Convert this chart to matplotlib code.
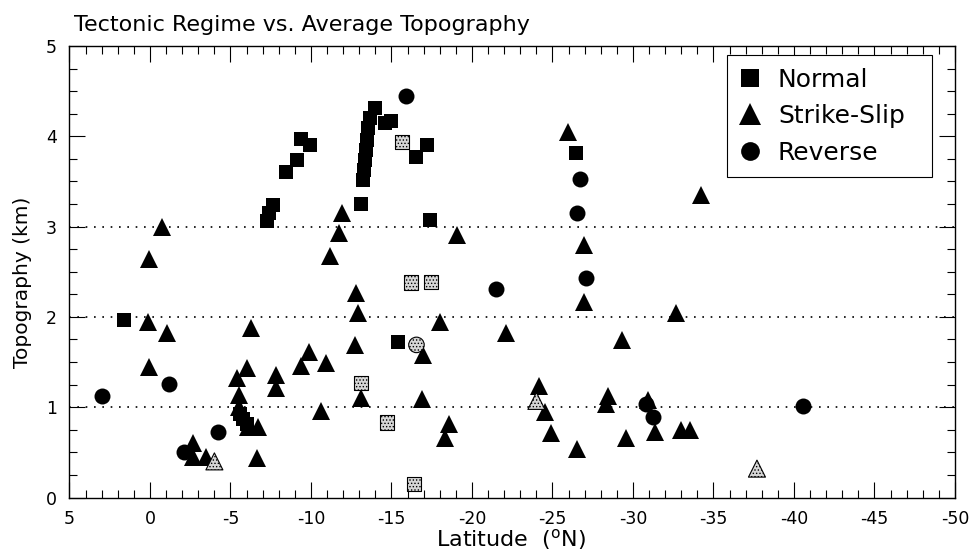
import matplotlib.pyplot as plt
from matplotlib.lines import Line2D
from matplotlib.ticker import MultipleLocator

plt.rcParams['font.family'] = 'DejaVu Sans'
plt.rcParams['axes.unicode_minus'] = False
plt.rcParams['hatch.linewidth'] = 0.6

# Normal faulting (filled squares)
normal_lat = [1.6, -7.25, -7.4, -7.65, -8.45, -9.1, -9.4, -9.95,
              -13.1, -13.2, -13.3, -13.35, -13.4, -13.45, -13.55, -13.65, -14.0,
              -14.6, -15.0, -16.5, -17.2, -17.4, -15.4, -26.45,
              -5.6, -5.8, -6.05]
normal_topo = [1.97, 3.06, 3.15, 3.24, 3.60, 3.74, 3.97, 3.90,
               3.25, 3.52, 3.63, 3.74, 3.85, 3.96, 4.09, 4.20, 4.31,
               4.15, 4.17, 3.77, 3.90, 3.07, 1.72, 3.82,
               0.93, 0.87, 0.81]

# Strike-slip (filled triangles)
strike_lat = [-0.75, 0.05, 0.15, -1.05, 0.05,
              -6.25, -6.0, -5.4, -5.55, -5.5, -6.1, -6.7, -6.65,
              -2.7, -2.7, -3.5,
              -7.85, -7.85, -9.85, -9.4, -10.95, -10.6,
              -11.9, -11.75, -11.2,
              -12.8, -12.9, -12.75, -13.1,
              -16.95, -16.9, -18.0, -18.6, -18.3, -19.05, -22.1,
              -25.95, -26.95, -26.95,
              -24.15, -24.55, -24.9, -26.5, -28.45, -28.3, -29.3, -29.55,
              -30.95, -31.35, -32.65, -33.0, -33.55, -34.25]
strike_topo = [3.00, 2.64, 1.94, 1.82, 1.44,
               1.88, 1.43, 1.32, 1.14, 1.00, 0.78, 0.78, 0.44,
               0.60, 0.45, 0.45,
               1.36, 1.21, 1.61, 1.46, 1.49, 0.96,
               3.15, 2.93, 2.67,
               2.26, 2.04, 1.69, 1.10,
               1.58, 1.09, 1.94, 0.81, 0.66, 2.91, 1.82,
               4.05, 2.80, 2.16,
               1.23, 0.95, 0.71, 0.54, 1.12, 1.04, 1.74, 0.66,
               1.08, 0.73, 2.04, 0.75, 0.75, 3.35]

# Reverse (filled circles)
reverse_lat = [3.0, -1.15, -2.1, -4.25, -15.9, -21.5, -26.7, -26.55, -27.1,
               -30.8, -31.25, -40.55]
reverse_topo = [1.12, 1.26, 0.50, 0.73, 4.45, 2.31, 3.53, 3.15, 2.43,
                1.04, 0.89, 1.01]

# stippled symbols
sh_normal_lat = [-15.65, -16.2, -17.45, -13.1, -14.7, -16.4]
sh_normal_topo = [3.94, 2.38, 2.39, 1.27, 0.83, 0.15]
sh_strike_lat = [-4.0, -24.0, -37.7]
sh_strike_topo = [0.40, 1.07, 0.32]
sh_reverse_lat = [-16.55]
sh_reverse_topo = [1.69]

grid_levels = [1, 2, 3]

fig = plt.figure(figsize=(9.72, 5.52), dpi=100)
ax = fig.add_axes([0.0715, 0.0987, 0.911, 0.818])

for g in grid_levels:
    ax.axhline(g, color='k', lw=1.2, ls=(0, (1, 4)), zorder=1)

ax.plot(normal_lat, normal_topo, 's', color='k', ms=10.5, mew=0, zorder=3)
ax.plot(strike_lat, strike_topo, '^', color='k', ms=12.5, mew=0, zorder=3)
ax.plot(reverse_lat, reverse_topo, 'o', color='k', ms=11.5, mew=0, zorder=3)

stip = dict(facecolor='#d6d6d6', edgecolor='k', hatch='.....', linewidths=0.8, zorder=4)
ax.scatter(sh_normal_lat, sh_normal_topo, marker='s', s=105, **stip)
ax.scatter(sh_strike_lat, sh_strike_topo, marker='^', s=150, **stip)
ax.scatter(sh_reverse_lat, sh_reverse_topo, marker='o', s=125, **stip)

ax.set_xlim(5, -50)
ax.set_ylim(0, 5)
ax.xaxis.set_major_locator(MultipleLocator(5))
ax.xaxis.set_minor_locator(MultipleLocator(1))
ax.yaxis.set_major_locator(MultipleLocator(1))
ax.yaxis.set_minor_locator(MultipleLocator(0.25))
ax.tick_params(which='both', direction='in', top=True, right=True, width=0.8)
ax.tick_params(which='major', length=11.5, labelsize=12.5, pad=9)
ax.tick_params(which='minor', length=5.5)
for sp in ax.spines.values():
    sp.set_linewidth(1.0)

fig.text(74 / 972, 1 - 31 / 552, 'Tectonic Regime vs. Average Topography',
         fontsize=16, va='baseline')
fig.text(23 / 972, 1 - 282.5 / 552, 'Topography (km)', rotation=90,
         ha='center', va='center', fontsize=14.5)
fig.text(511.5 / 972, 6 / 552, r'Latitude  ($^{\mathrm{o}}$N)',
         ha='center', va='baseline', fontsize=16)

handles = [Line2D([], [], ls='none', marker='s', color='k', ms=13.5, mew=0),
           Line2D([], [], ls='none', marker='^', color='k', ms=16, mew=0),
           Line2D([], [], ls='none', marker='o', color='k', ms=13.5, mew=0)]
leg = ax.legend(handles, ['Normal', 'Strike-Slip', 'Reverse'],
                loc='upper left', bbox_to_anchor=(0.7425, 0.0, 0.2315, 0.98),
                mode='expand', borderaxespad=0,
                fontsize=18, handlelength=0.84, handletextpad=0.7, borderpad=0.5,
                labelspacing=0.5, fancybox=False, framealpha=1, edgecolor='k')
leg.get_frame().set_linewidth(0.8)
leg.set_zorder(5)

fig.savefig('out.png', dpi=100)
